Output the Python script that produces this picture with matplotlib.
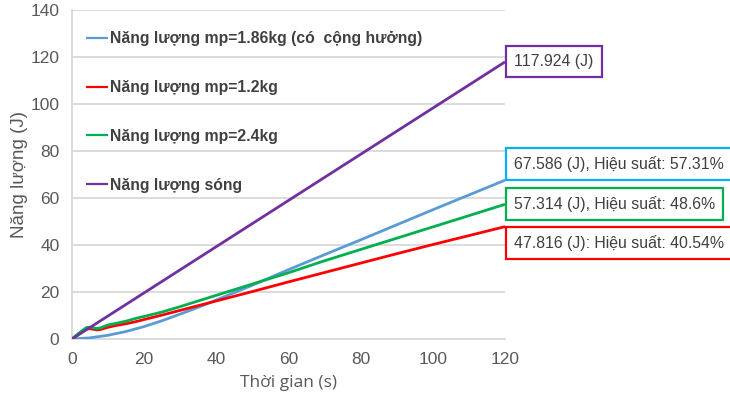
#!/usr/bin/env python3
"""Năng lượng hấp thụ theo thời gian cho các khối lượng phao khác nhau."""
import matplotlib
matplotlib.use("Agg")
import matplotlib.pyplot as plt

# thời gian (s) và năng lượng (J) đọc theo từng đường
t_186 = [0, 5, 10, 15, 20, 25, 30, 35, 40, 50, 60, 70, 80, 90, 100, 110, 120]
e_186 = [0, 0.5, 1.6, 3.2, 5.3, 7.8, 10.6, 13.5, 16.6, 22.9, 29.5, 35.9, 42.2, 48.6, 55.0, 61.3, 67.586]

t_12 = [0, 2, 4, 5, 6, 7, 8, 10, 12, 15, 18, 20, 25, 30, 40, 50, 60, 70, 80, 90, 100, 110, 120]
e_12 = [0, 2.4, 4.3, 4.4, 4.1, 3.9, 4.1, 5.0, 5.7, 6.5, 7.5, 8.3, 10.2, 12.2, 16.2, 20.2, 24.3, 28.3,
        32.3, 36.3, 40.2, 44.0, 47.816]

t_24 = [0, 2, 4, 5, 6, 7, 8, 10, 12, 15, 18, 20, 25, 30, 40, 50, 60, 70, 80, 90, 100, 110, 120]
e_24 = [0, 2.6, 4.9, 5.0, 4.7, 4.5, 4.8, 6.0, 6.6, 7.6, 8.9, 9.6, 11.5, 13.8, 18.6, 23.4, 28.2, 33.3,
        38.1, 42.9, 47.7, 52.5, 57.314]

t_song = [0, 120]
e_song = [0, 117.924]

labels = [
    "Năng lượng mp=1.86kg (có  cộng hưởng)",
    "Năng lượng mp=1.2kg",
    "Năng lượng mp=2.4kg",
    "Năng lượng sóng",
]
notes = [
    "67.586 (J), Hiệu suất: 57.31%",
    "47.816 (J): Hiệu suất: 40.54%",
    "57.314 (J), Hiệu suất: 48.6%",
    "117.924 (J)",
]

LINE_COLORS = ["#5B9BD5", "#FF0000", "#00B050", "#7030A0"]
BOX_COLORS = ["#00B0F0", "#FF0000", "#00B050", "#7030A0"]
TXT = "#404040"
GRID = "#D9D9D9"

plt.rcParams["font.family"] = ["Liberation Sans", "DejaVu Sans"]

fig = plt.figure(figsize=(7.30, 4.01), dpi=100)
ax = fig.add_axes([0.0986, 0.1546, 0.5932, 0.8204])

series = [(t_186, e_186), (t_12, e_12), (t_24, e_24), (t_song, e_song)]
for (t, e), c, lab in zip(series, LINE_COLORS, labels):
    ax.plot(t, e, color=c, lw=2, label=lab, solid_capstyle="butt", zorder=3)

ax.set_xlim(0, 120)
ax.set_ylim(0, 140)
ax.set_xticks(range(0, 121, 20))
ax.set_yticks(range(0, 141, 20))
ax.grid(axis="y", color=GRID, lw=1.3)
ax.set_axisbelow(True)
for side in ("top", "right"):
    ax.spines[side].set_visible(False)
for side in ("left", "bottom"):
    ax.spines[side].set_color(GRID)
    ax.spines[side].set_linewidth(1.3)
ax.tick_params(length=0, pad=9, labelsize=12.5, labelcolor="#595959")

ax.set_ylabel("Năng lượng (J)", fontsize=13.5, color="#595959", labelpad=2)
ax.set_xlabel("Thời gian (s)", fontsize=12.5, color="#595959", labelpad=6,
              family=["Open Sans", "DejaVu Sans"])

leg = ax.legend(loc="upper left", bbox_to_anchor=(0.0, 0.978), frameon=False,
                handlelength=1.4, handletextpad=0.15, labelspacing=2.15,
                prop={"weight": "bold", "size": 11.3})
for txt, h in zip(leg.get_texts(), leg.legend_handles):
    txt.set_color(TXT)
    h.set_linewidth(1.6)

# hộp ghi chú ở cuối mỗi đường
PAD_PT = 5.9
anchors = [("bottom", PAD_PT), ("top", -PAD_PT), ("center", 0), ("center", 0)]
for (t, e), note, bc, (va, dy) in zip(series, notes, BOX_COLORS, anchors):
    ax.annotate(note, xy=(t[-1], e[-1]), xytext=(PAD_PT + 0.8, dy), textcoords="offset points",
                ha="left", va=va, fontsize=11.4, color=TXT, annotation_clip=False,
                bbox=dict(boxstyle="square,pad=0.5", fc="white", ec=bc, lw=1.6), zorder=5)

fig.savefig("out.png", dpi=100)
